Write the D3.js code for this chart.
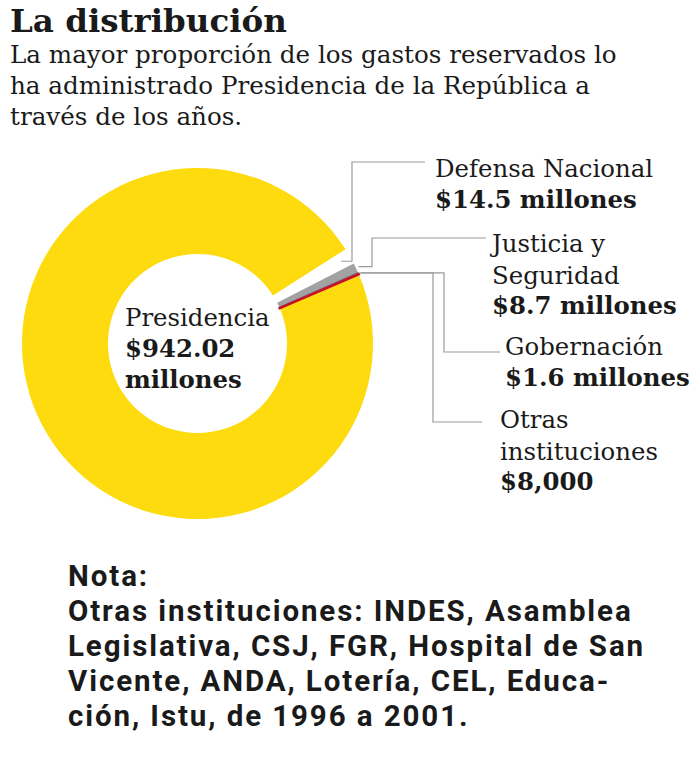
<!DOCTYPE html>
<html>
<head>
<meta charset="utf-8">
<script src="https://cdn.jsdelivr.net/npm/d3@7"></script>
<style>
  body { margin: 0; background: #fff; }
  svg text { fill: #1a1a1a; }
  .serif { font-family: "DejaVu Serif", serif; }
  .note { font-family: Roboto, sans-serif; font-weight: 700; letter-spacing: 1.9px; }
</style>
</head>
<body>
<div id="chart"></div>
<script>
// data (millones de dólares)
const institutions = ["Defensa Nacional", "Justicia y Seguridad", "Gobernación", "Otras instituciones", "Presidencia"];
const amounts = [14.5, 8.7, 1.6, 0.008, 942.02];
const amountLabels = ["$14.5 millones", "$8.7 millones", "$1.6 millones", "$8,000", "$942.02 millones"];
const sliceColors = ["#ffffff", "#a2a2a2", "#6e6e6e", "#c8102e", "#fddb0f"];

const titleText = "La distribución";
const subtitleLines = [
    "La mayor proporción de los gastos reservados lo",
    "ha administrado Presidencia de la República a",
    "través de los años."
];
const noteLines = [
    "Nota:",
    "Otras instituciones: INDES, Asamblea",
    "Legislativa, CSJ, FGR, Hospital de San",
    "Vicente, ANDA, Lotería, CEL, Educa-",
    "ción, Istu, de 1996 a 2001."
];

const width = 700, height = 767;
const cx = 197.5, cy = 343.5;
const rOuter = 175.5, rInner = 89.5;

const svg = d3.select("#chart")
    .append("svg")
    .attr("width", width)
    .attr("height", height);

// title + subtitle
svg.append("text")
    .attr("class", "serif")
    .attr("x", 10)
    .attr("y", 32)
    .attr("font-size", 32.5)
    .attr("font-weight", 700)
    .text(titleText);

svg.append("g")
    .selectAll("text")
    .data(subtitleLines)
    .join("text")
    .attr("class", "serif")
    .attr("x", 10)
    .attr("y", (d, i) => 63 + i * 31)
    .attr("font-size", 24.6)
    .text(d => d);

// donut
const pieData = institutions.map((name, i) => ({ name, value: amounts[i], color: sliceColors[i] }));
const startDeg = 57.5;
const pie = d3.pie()
    .sort(null)
    .value(d => d.value)
    .startAngle(startDeg * Math.PI / 180)
    .endAngle((startDeg + 360) * Math.PI / 180);
const arcs = pie(pieData);

const arc = d3.arc()
    .innerRadius(rInner)
    .outerRadius(rOuter);

const g = svg.append("g")
    .attr("transform", `translate(${cx},${cy})`);

// thin slices get a stroke so they stay visible
const thin = { "Gobernación": 1, "Otras instituciones": 2.6 };
g.selectAll("path")
    .data(arcs)
    .join("path")
    .attr("d", arc)
    .attr("fill", d => d.data.color)
    .attr("stroke", d => thin[d.data.name] ? d.data.color : "none")
    .attr("stroke-width", d => thin[d.data.name] || 0);

// keep the red sliver on top
g.selectAll("path").filter(d => d.data.name === "Otras instituciones").raise();

// point on a slice, in page coords
function slicePoint(d, r) {
    const a = (d.startAngle + d.endAngle) / 2;
    return [cx + r * Math.sin(a), cy - r * Math.cos(a)];
}

// leader lines: elbow x, label row y, end x
const leaders = [
    { r: rOuter - 10, elbowX: 352, rowY: 162, endX: 425 },
    { r: rOuter + 3, elbowX: 372, rowY: 238, endX: 486 },
    { r: rOuter + 1, elbowX: 444, rowY: 352, endX: 500 },
    { r: rOuter + 3, elbowX: 433, rowY: 422, endX: 482 }
];

const line = d3.line();
svg.append("g")
    .selectAll("path")
    .data(leaders)
    .join("path")
    .attr("d", (L, i) => {
        const p = slicePoint(arcs[i], L.r);
        return line([p, [L.elbowX, p[1]], [L.elbowX, L.rowY], [L.endX, L.rowY]]);
    })
    .attr("fill", "none")
    .attr("stroke", "#9a9a9a")
    .attr("stroke-width", 1.2);

// labels
const labelLayout = [
    { x: 435, y: 177, lines: ["Defensa Nacional"] },
    { x: 492, y: 252, lines: ["Justicia y", "Seguridad"] },
    { x: 505, y: 355, lines: ["Gobernación"] },
    { x: 500, y: 428, lines: ["Otras", "instituciones"] },
    { x: 125, y: 326, lines: ["Presidencia"] }
];

labelLayout.forEach((L, i) => {
    const t = svg.append("text")
        .attr("class", "serif")
        .attr("font-size", 24.4);
    L.lines.forEach((s, j) => {
        t.append("tspan")
            .attr("x", L.x)
            .attr("y", L.y + j * 32)
            .text(s);
    });
    const amountParts = i === 4 ? ["$942.02", "millones"] : [amountLabels[i]];
    amountParts.forEach((s, j) => {
        t.append("tspan")
            .attr("x", L.x)
            .attr("y", L.y + (L.lines.length + j) * 31)
            .attr("font-weight", 700)
            .text(s);
    });
});

// note
svg.append("g")
    .selectAll("text")
    .data(noteLines)
    .join("text")
    .attr("class", "note")
    .attr("x", 68)
    .attr("y", (d, i) => 586 + i * 35)
    .attr("font-size", 29.5)
    .text(d => d);
</script>
</body>
</html>
